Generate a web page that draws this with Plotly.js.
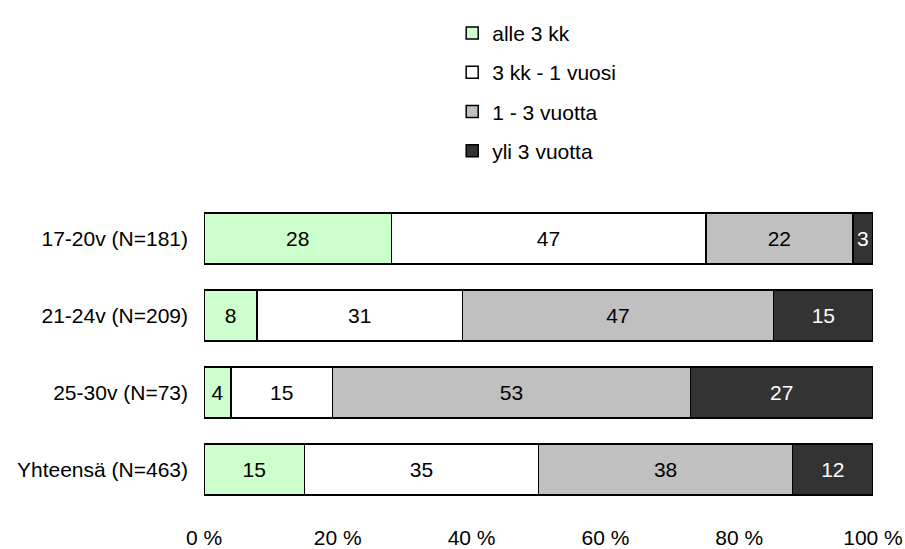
<!DOCTYPE html>
<html>
<head>
<meta charset="utf-8">
<script src="https://cdn.plot.ly/plotly-3.0.1.min.js"></script>
<style>html,body{margin:0;padding:0;background:#fff;}#chart{width:905px;height:549px;}</style>
</head>
<body>
<div id="chart"></div>
<script>
const categories = ["17-20v (N=181)", "21-24v (N=209)", "25-30v (N=73)", "Yhteensä (N=463)"];
const seriesNames = ["alle 3 kk", "3 kk - 1 vuosi", "1 - 3 vuotta", "yli 3 vuotta"];
const alle3kk   = [28, 8, 4, 15];
const kk3vuosi1 = [47, 31, 15, 35];
const vuotta1_3 = [22, 47, 53, 38];
const yli3      = [3, 15, 27, 12];
const tickVals = [0, 20, 40, 60, 80, 100];
const tickText = ["0 %", "20 %", "40 %", "60 %", "80 %", "100 %"];

const seriesValues = [alle3kk, kk3vuosi1, vuotta1_3, yli3];
const fills = ["#CCFFCC", "#FFFFFF", "#C0C0C0", "#333333"];
const textColors = ["#000000", "#000000", "#000000", "#FFFFFF"];
const FONT = "Liberation Sans, Arial, sans-serif";
const FS = 21;

const data = seriesValues.map((vals, i) => ({
  type: "bar",
  orientation: "h",
  name: seriesNames[i],
  legendgroup: "g" + i,
  y: categories,
  x: vals,
  text: vals.map(String),
  texttemplate: "%{text}",
  textposition: "inside",
  insidetextanchor: "middle",
  constraintext: "none",
  textangle: 0,
  textfont: {family: FONT, size: FS, color: textColors[i]},
  marker: {color: fills[i], line: {color: "#000000", width: 1.5}},
  hoverinfo: "none"
}));

const layout = {
  width: 905, height: 549,
  margin: {l: 204, r: 32, t: 194, b: 41},
  paper_bgcolor: "#FFFFFF",
  plot_bgcolor: "#FFFFFF",
  barmode: "stack",
  barnorm: "percent",
  bargap: 0.34,
  font: {family: FONT, size: FS, color: "#000000"},
  xaxis: {
    range: [0, 100],
    tickvals: tickVals,
    ticktext: tickText,
    showgrid: false, zeroline: false, showline: false,
    ticks: "",
    ticklabelstandoff: 15,
    tickfont: {family: FONT, size: FS, color: "#000000"},
    fixedrange: true
  },
  yaxis: {
    autorange: "reversed",
    showgrid: false, zeroline: false, showline: false,
    ticks: "",
    ticklabelstandoff: 15,
    tickfont: {family: FONT, size: FS, color: "#000000"},
    fixedrange: true
  },
  showlegend: true,
  legend: {
    x: 0.371, xanchor: "left",
    y: 1.608, yanchor: "top",
    orientation: "v",
    traceorder: "grouped",
    tracegroupgap: 9,
    font: {family: FONT, size: FS, color: "#000000"},
    bgcolor: "rgba(0,0,0,0)",
    borderwidth: 0
  }
};

Plotly.newPlot("chart", data, layout, {displayModeBar: false, staticPlot: true});
</script>
</body>
</html>
